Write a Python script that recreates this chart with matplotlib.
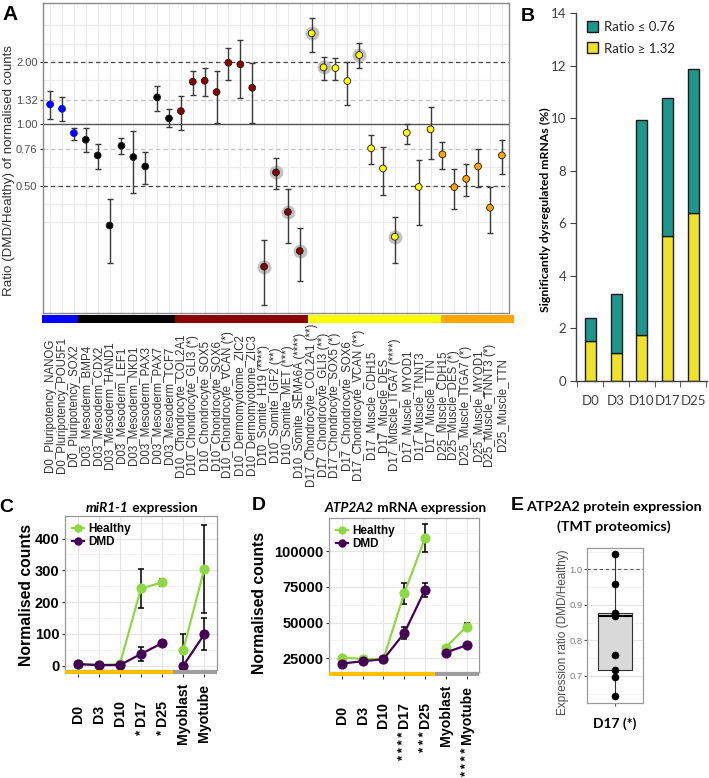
import numpy as np
import matplotlib
matplotlib.use('Agg')
import matplotlib.pyplot as plt
from matplotlib.lines import Line2D
from matplotlib.patches import Patch
from matplotlib.ticker import NullLocator, FixedLocator

plt.rcParams['font.family'] = ['Liberation Sans', 'DejaVu Sans']

W, H = 709, 778
PT = 72 / 100.0  # points per pixel

# ---------------- Panel A data ----------------
labels_A = [
    "D0_Pluripotency_NANOG", "D0_Pluripotency_POU5F1", "D0_Pluripotency_SOX2",
    "D03_Mesoderm_BMP4", "D03_Mesoderm_CDX2", "D03_Mesoderm_HAND1", "D03_Mesoderm_LEF1",
    "D03_Mesoderm_NKD1", "D03_Mesoderm_PAX3", "D03_Mesoderm_PAX7", "D03_Mesoderm_TCF7",
    "D10_Chondrocyte_COL2A1", "D10_Chondrocyte_GLI3 (*)", "D10_Chondrocyte_SOX5",
    "D10_Chondrocyte_SOX6", "D10_Chondrocyte_VCAN (*)", "D10_Dermomyotome_ZIC2",
    "D10_Dermomyotome_ZIC3", "D10_Somite_H19 (****)", "D10_Somite_IGF2 (**)",
    "D10_Somite_MET (***)", "D10_Somite_SEMA6A (****)",
    "D17_Chondrocyte_COL2A1 (**)", "D17_Chondrocyte_GLI3 (**)", "D17_Chondrocyte_SOX5 (*)",
    "D17_Chondrocyte_SOX6", "D17_Chondrocyte_VCAN (**)",
    "D17_Muscle_CDH15", "D17_Muscle_DES", "D17_Muscle_ITGA7 (****)", "D17_Muscle_MYOD1",
    "D17_Muscle_TNNT3", "D17_Muscle_TTN",
    "D25_Muscle_CDH15", "D25_Muscle_DES (*)", "D25_Muscle_ITGA7 (*)", "D25_Muscle_MYOD1",
    "D25_Muscle_TNNT3 (*)", "D25_Muscle_TTN"]
ratio_A = [1.25, 1.19, 0.907, 0.842, 0.707, 0.323, 0.787, 0.694, 0.625, 1.352, 1.069,
           1.160, 1.610, 1.628, 1.435, 1.991, 1.956, 1.505,
           0.204, 0.585, 0.376, 0.243,
           2.766, 1.891, 1.876, 1.623, 2.17,
           0.765, 0.611, 0.285, 0.910, 0.497, 0.946,
           0.715, 0.496, 0.544, 0.625, 0.394, 0.707]
upper_A = [1.451, 1.352, 0.963, 0.956, 0.802, 0.434, 0.861, 0.928, 0.736, 1.529, 1.183,
           1.368, 1.821, 1.876, 1.821, 2.339, 2.558, 1.991,
           0.274, 0.688, 0.487, 0.315,
           3.27, 2.122, 2.105, 2.0, 2.481,
           0.884, 0.776, 0.354, 1.003, 0.668, 1.218,
           0.823, 0.607, 0.644, 0.759, 0.498, 0.836]
lower_A = [1.061, 1.041, 0.839, 0.736, 0.607, 0.213, 0.715, 0.464, 0.515, 1.160, 0.967,
           0.941, 1.388, 1.377, 1.018, 1.636, 1.337, 1.018,
           0.133, 0.485, 0.265, 0.174,
           2.237, 1.641, 1.641, 1.237, 1.870,
           0.642, 0.455, 0.212, 0.802, 0.324, 0.676,
           0.607, 0.387, 0.447, 0.498, 0.296, 0.574]
stage_order_A = ['D0', 'D03', 'D10', 'D17', 'D25']
stage_colors_A = {'D0': '#0000FF', 'D03': '#000000', 'D10': '#8B0000',
                  'D17': '#FFFF00', 'D25': '#FFA500'}
yticks_A = [0.5, 0.76, 1.0, 1.32, 2.0]

# ---------------- Panel B data ----------------
days_B = ['D0', 'D3', 'D10', 'D17', 'D25']
up_B = [1.52, 1.05, 1.75, 5.53, 6.41]      # Ratio >= 1.32
down_B = [0.89, 2.25, 8.18, 5.26, 5.46]    # Ratio <= 0.76

# ---------------- Panels C/D data ----------------
stages_CD = ['D0', 'D3', 'D10', 'D17', 'D25', 'Myoblast', 'Myotube']
mir_healthy = [5, 2, 5, 243, 262, 50, 305]
mir_healthy_err = [3, 2, 3, 61, 12, 49, 139]
mir_dmd = [5, 2, 2, 37, 71, 0, 99]
mir_dmd_err = [2, 1, 1, 21, 5, 2, 50]
mir_stars = ['', '', '', '*', '*', '', '']

atp_healthy = [25500, 24500, 24300, 70300, 108900, 32500, 47200]
atp_healthy_err = [800, 700, 700, 7500, 9800, 1000, 2300]
atp_dmd = [21300, 22900, 24300, 42500, 72700, 29000, 34100]
atp_dmd_err = [800, 700, 700, 4100, 5000, 800, 1000]
atp_stars = ['', '', '', '****', '***', '', '****']

# ---------------- Panel E data ----------------
prot_E = [1.043, 0.958, 0.877, 0.875, 0.869, 0.758, 0.718, 0.696, 0.644]

fig = plt.figure(figsize=(W / 100, H / 100), dpi=100)


def rect(l, t, r, b):
    return [l / W, 1 - b / H, (r - l) / W, (b - t) / H]


def ftext(x, y, s, **kw):
    return fig.text(x / W, 1 - y / H, s, **kw)


# ======================= Panel A =======================
axA = fig.add_axes(rect(43, 3, 509, 313))
xA = np.arange(len(labels_A))
stage_A = [l.split('_')[0] for l in labels_A]
col_A = [stage_colors_A[s] for s in stage_A]
edge_A = [stage_colors_A[s] if s == 'D0' else '#1A1A1A' for s in stage_A]
nstar_A = np.array([l.count('*') for l in labels_A])
r = np.array(ratio_A); up = np.array(upper_A); lo = np.array(lower_A)

axA.set_yscale('log', base=2)
axA.set_xlim(-0.6, len(labels_A) - 0.4)
axA.set_ylim(2 ** -3.04, 2 ** 1.956)
for g in [3.03, 2.46, 1.636, 0.62, 0.41, 0.337]:
    axA.axhline(g, color='#EBEBEB', lw=0.8, zorder=0)
for xi in xA:
    axA.axvline(xi, color='#EBEBEB', lw=0.8, zorder=0)
dash = (0, (3.5, 2.5))
axA.axhline(2.0, color='#444444', lw=0.9, ls=dash, zorder=1)
axA.axhline(0.5, color='#444444', lw=0.9, ls=dash, zorder=1)
axA.axhline(1.32, color='#C4C4C4', lw=0.9, ls=dash, zorder=1)
axA.axhline(0.76, color='#C4C4C4', lw=0.9, ls=dash, zorder=1)
axA.axhline(1.0, color='#555555', lw=1.0, zorder=1)

halo = nstar_A >= 2
axA.scatter(xA[halo], r[halo], s=100, color='#C2C2C2', lw=0, zorder=2)
axA.errorbar(xA, r, yerr=[r - lo, up - r], fmt='none', ecolor='#3A3A3A',
             elinewidth=1.0, capsize=2.2, capthick=1.0, zorder=3)
axA.scatter(xA, r, s=24, c=col_A, edgecolors=edge_A, linewidths=0.6, zorder=4)

axA.yaxis.set_major_locator(FixedLocator(yticks_A))
axA.yaxis.set_minor_locator(NullLocator())
axA.set_yticklabels(['%.2f' % v for v in yticks_A])
axA.tick_params(axis='y', length=2.5, color='#333333', labelsize=8,
                labelcolor='#4D4D4D', pad=1.5)
axA.set_xticks(xA)
axA.set_xticklabels(labels_A, rotation=90, fontsize=8.3, color='#333333',
                    va='center', ha='center')
axA.tick_params(axis='x', length=0, pad=92 * PT)
for sp in axA.spines.values():
    sp.set_color('#8A8A8A'); sp.set_linewidth(1.0)
ftext(9.5, 171, 'Ratio (DMD/Healthy) of normalised counts', rotation=90,
      ha='center', va='center', fontsize=9.6, color='#333333')
ftext(10, 14, 'A', ha='center', va='center', fontsize=15, fontweight='bold')

axAbar = fig.add_axes(rect(41.7, 315, 514, 323))
counts_A = [stage_A.count(s) for s in stage_order_A]
left_A = np.cumsum([0] + counts_A[:-1])
axAbar.barh(0, counts_A, left=left_A, height=1,
            color=[stage_colors_A[s] for s in stage_order_A], lw=0)
axAbar.set_xlim(0, len(labels_A)); axAbar.set_ylim(-0.5, 0.5)
axAbar.axis('off')

# ======================= Panel B =======================
lato = ['Lato', 'DejaVu Sans']
axB = fig.add_axes(rect(576, 13.3, 706.7, 381))
xb = np.arange(len(days_B))
teal = '#1F968B'; yel = '#F0E22A'
axB.bar(xb, up_B, width=0.43, color=yel, edgecolor='#1A1A1A', lw=1.0, zorder=2)
axB.bar(xb, down_B, bottom=up_B, width=0.43, color=teal, edgecolor='#1A1A1A',
        lw=1.0, zorder=2)
axB.set_xlim(-0.555, len(days_B) - 1 + 0.52)
axB.set_ylim(0, 14)
axB.set_yticks(np.arange(0, 15, 2))
for sp in ['top', 'right']:
    axB.spines[sp].set_visible(False)
for sp in ['left', 'bottom']:
    axB.spines[sp].set_color('#404040'); axB.spines[sp].set_linewidth(1.0)
axB.tick_params(axis='y', length=4, color='#404040', labelsize=9.5,
                labelcolor='#404040', pad=3)
axB.set_xticks(xb)
axB.set_xticklabels(days_B)
axB.tick_params(axis='x', which='major', length=0, labelsize=9.5,
                labelcolor='#404040', pad=10)
axB.xaxis.set_minor_locator(FixedLocator(np.arange(-0.5, len(days_B), 1.0)))
axB.tick_params(axis='x', which='minor', length=4, color='#404040')
for t in axB.get_xticklabels() + axB.get_yticklabels():
    t.set_family(lato)
legB = axB.legend(handles=[Patch(facecolor=teal, edgecolor='#1A1A1A', label='Ratio ≤ 0.76'),
                           Patch(facecolor=yel, edgecolor='#1A1A1A', label='Ratio ≥ 1.32')],
                  loc='upper left', bbox_to_anchor=(0.02, 1.0), frameon=False,
                  prop={'family': lato, 'size': 9.5}, handlelength=0.9,
                  handleheight=0.9, handletextpad=0.4, labelspacing=0.7,
                  borderaxespad=0.2, labelcolor='#262626')
ftext(545, 210, 'Significantly dysregulated mRNAs (%)', rotation=90, ha='center',
      va='center', fontsize=8.8, fontweight='bold', family=lato)
ftext(527.5, 16.5, 'B', ha='center', va='center', fontsize=14, fontweight='bold')

# ======================= Panels C/D =======================
green = '#8FD744'; purple = '#440154'


def line_panel(box, barbox, healthy, h_err, dmd, d_err, stars, ylim, yticks,
               ytl, minor):
    ax = fig.add_axes(rect(*box))
    x = np.arange(len(stages_CD))
    ax.set_xlim(-0.6, len(stages_CD) - 0.4)
    ax.set_ylim(*ylim)
    for g in minor:
        ax.axhline(g, color='#F2F2F2', lw=0.6, zorder=0)
    for g in yticks:
        ax.axhline(g, color='#E6E6E6', lw=0.8, zorder=0)
    for xi in x:
        ax.axvline(xi, color='#E6E6E6', lw=0.8, zorder=0)
    segs = [np.arange(0, 5), np.arange(5, 7)]
    for vals, errs, c, z in [(healthy, h_err, green, 3), (dmd, d_err, purple, 5)]:
        vals = np.array(vals); errs = np.array(errs)
        ax.errorbar(x, vals, yerr=errs, fmt='none', ecolor='black', elinewidth=1.1,
                    capsize=2.2, capthick=1.1, zorder=z - 1)
        for s in segs:
            ax.plot(x[s], vals[s], '-o', color=c, lw=1.6, ms=6.3, zorder=z)
    ax.set_yticks(yticks)
    ax.set_yticklabels(ytl)
    ax.yaxis.set_minor_locator(NullLocator())
    ax.tick_params(axis='y', length=2.5, color='#333333', labelsize=10.5, pad=1.5)
    for t in ax.get_yticklabels():
        t.set_fontweight('bold')
    ax.set_xticks([])
    for sp in ax.spines.values():
        sp.set_color('#9A9A9A'); sp.set_linewidth(0.9)
    ax.legend(handles=[Line2D([], [], color=green, marker='o', lw=1.6, ms=5,
                              label='Healthy'),
                       Line2D([], [], color=purple, marker='o', lw=1.6, ms=5,
                              label='DMD')],
              loc='upper left', bbox_to_anchor=(0.0, 1.0), frameon=False,
              prop={'size': 8.5, 'weight': 'bold'}, handlelength=1.0,
              handletextpad=0.35, labelspacing=0.05, borderaxespad=0.3,
              borderpad=0.3)
    # stage colour bar with tick labels
    axb = fig.add_axes(rect(*barbox))
    axb.set_xlim(-0.6, len(stages_CD) - 0.4)
    axb.set_ylim(0, 1)
    axb.barh(0.5, [5.1, 2.1], left=[-0.6, 4.5], height=1,
             color=['#FFC000', '#9E9E9E'], lw=0)
    for sp in axb.spines.values():
        sp.set_visible(False)
    axb.set_yticks([])
    axb.set_xticks(x)
    axb.set_xticklabels(stages_CD, rotation=90, va='center', ha='center',
                        fontsize=10.2, fontweight='bold')
    axb.tick_params(axis='x', length=2.5, color='#333333', pad=36 * PT)
    for lab, st in zip(axb.get_xticklabels(), stars):
        if st:
            axb.annotate('\u2009'.join(st), xy=(0.5, 0.0), xycoords=lab,
                         xytext=(0, -2.5), textcoords='offset points', rotation=90,
                         ha='center', va='top', fontsize=9.5, fontweight='bold',
                         family=['Liberation Sans', 'DejaVu Sans'])
    return ax


axC = line_panel((65, 516, 217, 670), (65, 670, 217, 674), mir_healthy,
                 mir_healthy_err, mir_dmd, mir_dmd_err, mir_stars, (-13.5, 471),
                 [0, 100, 200, 300, 400], ['0', '100', '200', '300', '400'],
                 [50, 150, 250, 350, 450])
axD = line_panel((329.3, 518.3, 479, 671.7), (329.3, 671.7, 479, 675.7), atp_healthy,
                 atp_healthy_err, atp_dmd, atp_dmd_err, atp_stars, (15600, 122900),
                 [25000, 50000, 75000, 100000],
                 ['25000', '50000', '75000', '100000'],
                 [37500, 62500, 87500, 112500])

ftext(26.7, 595, 'Normalised counts', rotation=90, ha='center', va='center',
      fontsize=11.3, fontweight='bold')
ftext(259, 603, 'Normalised counts', rotation=90, ha='center', va='center',
      fontsize=11.3, fontweight='bold')

tC = ftext(86, 512, 'miR1-1', ha='left', va='baseline', fontsize=9.8,
           fontweight='bold', style='italic', family=lato)
axC.annotate(' expression', xy=(1, 0), xycoords=tC, ha='left', va='bottom',
             fontsize=9.8, fontweight='bold', family=lato, annotation_clip=False)
tD = ftext(325, 512, 'ATP2A2', ha='left', va='baseline', fontsize=9.8,
           fontweight='bold', style='italic', family=lato)
axD.annotate(' mRNA expression', xy=(1, 0), xycoords=tD, ha='left', va='bottom',
             fontsize=9.8, fontweight='bold', family=lato, annotation_clip=False)

ftext(6, 507, 'C', ha='center', va='center', fontsize=14, fontweight='bold')
ftext(259, 506, 'D', ha='center', va='center', fontsize=14, fontweight='bold')

# ======================= Panel E =======================
axE = fig.add_axes(rect(587.3, 547.7, 643, 703.3))
axE.set_xlim(0.4, 1.6)
axE.set_ylim(0.623, 1.061)
for g in [0.65, 0.75, 0.85, 0.95, 1.05]:
    axE.axhline(g, color='#F2F2F2', lw=0.6, zorder=0)
for g in [0.7, 0.8, 0.9, 1.0]:
    axE.axhline(g, color='#E6E6E6', lw=0.8, zorder=0)
axE.axhline(1.0, color='#555555', lw=0.8, ls=(0, (3, 2.5)), zorder=1)
bp = axE.boxplot(prot_E, positions=[1], widths=0.72, patch_artist=True,
                 showfliers=False, showcaps=False, whis=1.5, zorder=2)
for b in bp['boxes']:
    b.set_facecolor('#D9D9D9'); b.set_edgecolor('#333333'); b.set_linewidth(0.8)
for w in bp['whiskers']:
    w.set_color('#333333'); w.set_linewidth(0.8)
for m in bp['medians']:
    m.set_color('black'); m.set_linewidth(1.5)
axE.scatter(np.ones(len(prot_E)), prot_E, s=20, color='black', zorder=4)
axE.set_yticks([0.7, 0.8, 0.9, 1.0])
axE.set_yticklabels(['0.7', '0.8', '0.9', '1.0'])
axE.tick_params(axis='y', length=2, color='#555555', labelsize=6.8,
                labelcolor='#808080', pad=1.5)
axE.set_xticks([1])
axE.set_xticklabels(['D17 (*)'], fontsize=10, fontweight='bold', family=lato)
axE.tick_params(axis='x', length=2, color='#555555', pad=8)
for sp in axE.spines.values():
    sp.set_color('#9A9A9A'); sp.set_linewidth(0.9)
ftext(563, 632, 'Expression ratio (DMD/Healthy)', rotation=90, ha='center',
      va='center', fontsize=8.5, color='#4D4D4D')
ftext(614, 507, 'ATP2A2 protein expression', ha='center', va='center',
      fontsize=10.3, fontweight='bold', family=lato)
ftext(614, 527, '(TMT proteomics)', ha='center', va='center', fontsize=10.3,
      fontweight='bold', family=lato)
ftext(517.5, 506, 'E', ha='center', va='center', fontsize=14, fontweight='bold')

fig.savefig('out.png', dpi=100)
